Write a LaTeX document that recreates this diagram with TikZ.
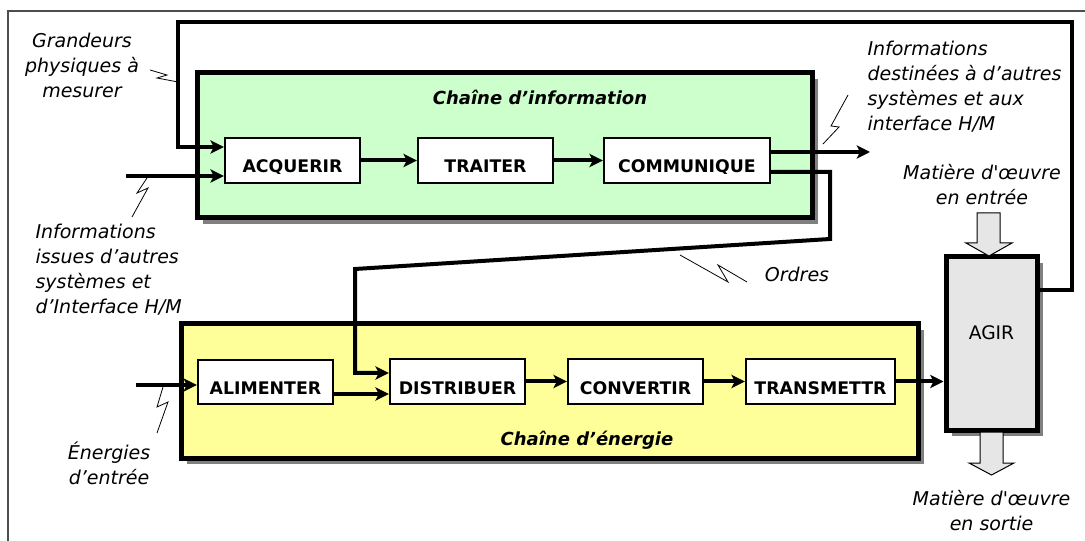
\documentclass[tikz,border=0pt]{standalone}
\usepackage{fontspec}
\setmainfont{DejaVu Sans}
\usepackage{tikz}
\usetikzlibrary{arrows.meta,calc,shadows}
\tikzset{every picture/.style={line width=0.75pt}}

\definecolor{framegray}{HTML}{4D4D4D}
\definecolor{chaininfo}{HTML}{CCFFCC}
\definecolor{chainener}{HTML}{FFFF99}
\definecolor{agirgray}{HTML}{E6E6E6}
\definecolor{shadowgray}{HTML}{808080}

\tikzset{
  chainbox/.style={draw, line width=3.75pt, inner sep=0pt,
    drop shadow={shadow xshift=4.5pt, shadow yshift=-4.5pt, fill=shadowgray, opacity=1}},
  funcbox/.style={draw, fill=white, line width=1.8pt, inner sep=0pt, minimum height=33.75pt},
  flow/.style={line width=3pt, -{Stealth[length=10pt,width=10pt,inset=2.5pt]}},
  blockarr/.style={draw, fill=agirgray, line width=0.75pt},
  spark/.style={line width=0.6pt},
  boxtxt/.style={font=\fontsize{13}{15}\selectfont\bfseries, inner sep=0pt, anchor=base},
  agirtxt/.style={font=\fontsize{14}{16}\selectfont, inner sep=0pt, anchor=base},
  note/.style={font=\fontsize{14.25}{18.75}\selectfont\itshape, inner sep=0pt},
  chaintxt/.style={font=\fontsize{13.5}{16}\selectfont\bfseries\itshape, inner sep=0pt}
}

\begin{document}
\begin{tikzpicture}[x=0.75pt,y=0.75pt,yscale=-1,xscale=1]
		%set diagram left start at 0, and has height of 541
		\useasboundingbox (0,0) rectangle (1085,541);
		
		%Shape: Rectangle
		\draw [color=framegray, line width=1.2pt] (8,11) rectangle (1100,560);
		
		%Shape: Rectangle
		\draw (504.5,145.5) node [chainbox, fill=chaininfo, minimum width=461.25pt, minimum height=108.75pt] (info) {};
		%Shape: Rectangle
		\draw (549.5,391) node [chainbox, fill=chainener, minimum width=552.75pt, minimum height=100.5pt] (ener) {};
		%Shape: Rectangle
		\draw (991.5,343.5) node [chainbox, fill=agirgray, minimum width=68.25pt, minimum height=129.75pt] (agir) {};
		
		%Shape: Rectangle
		\draw (292.5,160.5) node [funcbox, minimum width=101.25pt] (acq) {};
		%Shape: Rectangle
		\draw (485.5,160.5) node [funcbox, minimum width=101.25pt] (trt) {};
		%Shape: Rectangle
		\draw (687,160.5) node [funcbox, minimum width=124.5pt] (com) {};
		%Shape: Rectangle
		\draw (265.5,382) node [funcbox, minimum width=101.25pt, minimum height=33pt] (alim) {};
		%Shape: Rectangle
		\draw (457.5,381.5) node [funcbox, minimum width=101.25pt] (dist) {};
		%Shape: Rectangle
		\draw (635.5,381.5) node [funcbox, minimum width=101.25pt] (conv) {};
		%Shape: Rectangle
		\draw (820.5,381.5) node [funcbox, minimum width=111.75pt] (trans) {};
		
		\coordinate (loopr) at (1072,22);
		\coordinate (loopl) at (178,22);
		\coordinate (infin) at (126,176);
		\coordinate (infout) at (870,152);
		\coordinate (ordr) at (830,239);
		\coordinate (ordl) at (355,269);
		\coordinate (enin) at (136,385);
		
		%Straight Lines
		\draw [flow] ($(agir.east)+(0,-53.5)$) -| (loopr) -- (loopl) |- ($(acq.west)+(0,-13.5)$);
		%Straight Lines
		\draw [flow] (infin) -- (acq.west |- infin);
		%Straight Lines
		\draw [flow] (acq) -- (trt);
		%Straight Lines
		\draw [flow] (trt) -- (com);
		%Straight Lines
		\draw [flow] (com.east |- infout) -- (infout);
		%Straight Lines
		\draw [flow] ($(com.east)+(0,11.5)$) -| (ordr) -- (ordl) |- ($(dist.west)+(0,-8.5)$);
		%Straight Lines
		\draw [flow] (enin) -- (alim.west |- enin);
		%Straight Lines
		\draw [flow] ($(alim.east)+(0,12)$) -- ($(dist.west)+(0,12.5)$);
		%Straight Lines
		\draw [flow] (dist) -- (conv);
		%Straight Lines
		\draw [flow] (conv) -- (trans);
		%Straight Lines
		\draw [flow] (trans) -- (agir.west |- trans);
		
		%Shape: Block Arrow
		\draw [blockarr] (977,213) -- (1000,213) -- (1000,243) -- (1012,243) -- (989,256) -- (966,243) -- (977,243) -- cycle;
		%Shape: Block Arrow
		\draw [blockarr] (980,432) -- (1003,432) -- (1003,463) -- (1014,463) -- (991.5,475) -- (969,463) -- (980,463) -- cycle;
		
		%Straight Lines
		\draw [spark] (150,70) -- (167,75) -- (157,78) -- (178,82);
		%Straight Lines
		\draw [spark] (147,178) -- (137,193) -- (148,188) -- (132,217);
		%Straight Lines
		\draw [spark] (163,387) -- (157,407) -- (168,402) -- (157,433);
		%Straight Lines
		\draw [spark] (848,95) -- (831,126) -- (839,127) -- (823,144);
		%Straight Lines
		\draw [spark] (680,255) -- (728,282) -- (718,265) -- (747,282);
		
		% Text Node
		\begin{scope}
		\clip (225,138) rectangle (770,173.5);
		\draw (292.5,173) node [boxtxt] (acqtxt) {ACQUERIR};
		\draw (485.5,173) node [boxtxt] (trttxt) {TRAITER};
		\draw (687,173) node [boxtxt] (comtxt) {COMMUNIQUE};
		\end{scope}
		% Text Node
		\draw (265.5,395) node [boxtxt] (alimtxt) {ALIMENTER};
		% Text Node
		\draw (457.5,395) node [boxtxt] (disttxt) {DISTRIBUER};
		% Text Node
		\draw (635.5,395) node [boxtxt] (convtxt) {CONVERTIR};
		% Text Node
		\draw (820.5,395) node [boxtxt] (transtxt) {TRANSMETTR};
		% Text Node
		\draw (991.5,340) node [agirtxt] (agirlbl) {AGIR};
		% Text Node
		\draw (540,97) node [chaintxt] (infolbl) {Chaîne d’information};
		% Text Node
		\draw (587,440) node [chaintxt] (enerlbl) {Chaîne d’énergie};
		% Text Node
		\draw (82,65) node [note, align=center] (grand) {Grandeurs\\physiques à\\mesurer};
		% Text Node
		\draw (35,270) node [note, align=left, anchor=west] (infiss) {Informations\\issues d’autres\\systèmes et\\d’Interface H/M};
		% Text Node
		\draw (867,87) node [note, align=left, anchor=west] (infdest) {Informations\\destinées à d’autres\\systèmes et aux\\interface H/M};
		% Text Node
		\draw (982,185) node [note, align=center] (matin) {Matière d\textquotesingle{}œuvre\\en entrée};
		% Text Node
		\draw (991.5,511) node [note, align=center] (matout) {Matière d\textquotesingle{}œuvre\\en sortie};
		% Text Node
		\draw (109,463) node [note, align=center] (enlbl) {Énergies\\d’entrée};
		% Text Node
		\draw (797,274) node [note] (ordlbl) {Ordres};
		
		
		\end{tikzpicture}
\end{document}
